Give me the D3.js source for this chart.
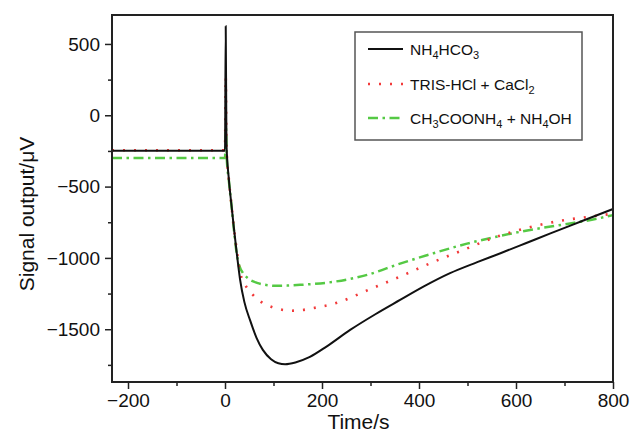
<!DOCTYPE html>
<html>
<head>
<meta charset="utf-8">
<script src="https://cdn.jsdelivr.net/npm/d3@7"></script>
<style>
  body { margin: 0; background: #fff; }
  svg text { font-family: "Liberation Sans", Arial, sans-serif; fill: #111; }
  .axis path, .axis line { stroke: #222; }
</style>
</head>
<body>
<div id="chart"></div>
<script>
// data: [time (s), signal (uV)]
var nh4hco3 = [[-233,-248],[0,-248],[1.5,625],[3,-200],[8,-450],[13,-620],[18,-780],[24,-960],[31,-1150],[40,-1310],[52,-1440],[65,-1560],[78,-1645],[95,-1710],[110,-1738],[124,-1745],[145,-1733],[175,-1694],[210,-1620],[258,-1505],[310,-1395],[361,-1295],[410,-1200],[464,-1107],[520,-1030],[568,-967],[620,-897],[671,-828],[739,-738],[800,-657]];
var trisCacl2 = [[-233,-245],[0,-245],[1.5,265],[3,-220],[8,-450],[13,-620],[18,-780],[24,-940],[31,-1100],[42,-1190],[55,-1250],[75,-1310],[97,-1345],[120,-1365],[138,-1370],[160,-1365],[182,-1352],[231,-1315],[295,-1225],[365,-1125],[430,-1028],[491,-945],[553,-860],[623,-790],[691,-740],[750,-712],[800,-690]];
var acetate = [[-233,-300],[0,-300],[2,-90],[3.5,-290],[8,-460],[13,-620],[18,-790],[24,-967],[30,-1060],[37,-1105],[50,-1150],[66,-1175],[85,-1190],[107,-1196],[130,-1194],[155,-1189],[223,-1168],[293,-1119],[361,-1040],[430,-967],[499,-900],[568,-845],[636,-800],[705,-762],[767,-725],[800,-700]];

var xMajor = [-200, 0, 200, 400, 600, 800];
var xMinor = [-100, 100, 300, 500, 700];
var yMajor = [500, 0, -500, -1000, -1500];
var yMinor = [250, -250, -750, -1250, -1750];

var width = 630, height = 436;
var margin = {top: 15, right: 17, bottom: 54, left: 112};

var svg = d3.select("#chart").append("svg")
    .attr("width", width)
    .attr("height", height);

var x = d3.scaleLinear()
    .domain([-233, 800])
    .range([margin.left, width - margin.right]);

var y = d3.scaleLinear()
    .domain([-1870, 703])
    .range([height - margin.bottom, margin.top]);

var minus = function(d){ return d < 0 ? "\u2212" + Math.abs(d) : "" + d; };

// minor ticks
svg.append("g")
    .attr("class", "axis")
    .attr("transform", "translate(0," + y.range()[0] + ")")
    .call(d3.axisBottom(x).tickValues(xMinor).tickSize(4).tickSizeOuter(0).tickFormat(""))
    .call(g => g.select(".domain").remove());
svg.append("g")
    .attr("class", "axis")
    .attr("transform", "translate(" + x.range()[0] + ",0)")
    .call(d3.axisLeft(y).tickValues(yMinor).tickSize(4).tickSizeOuter(0).tickFormat(""))
    .call(g => g.select(".domain").remove());

// major ticks + labels
var xAxis = svg.append("g")
    .attr("class", "axis")
    .attr("transform", "translate(0," + y.range()[0] + ")")
    .call(d3.axisBottom(x).tickValues(xMajor).tickSize(7).tickSizeOuter(0).tickFormat(minus));
xAxis.select(".domain").remove();
xAxis.selectAll("text").attr("font-size", 19).attr("dy", "0.95em").attr("y", 7);

var yAxis = svg.append("g")
    .attr("class", "axis")
    .attr("transform", "translate(" + x.range()[0] + ",0)")
    .call(d3.axisLeft(y).tickValues(yMajor).tickSize(7).tickSizeOuter(0).tickFormat(minus));
yAxis.select(".domain").remove();
yAxis.selectAll("text").attr("font-size", 19).attr("x", -12);
svg.selectAll(".axis line").attr("stroke-width", 1.5);

// curves
var line = d3.line()
    .x(d => x(d[0]))
    .y(d => y(d[1]))
    .curve(d3.curveMonotoneX);

svg.append("path").datum(acetate)
    .attr("fill", "none").attr("stroke", "#55c944").attr("stroke-width", 2.5)
    .attr("stroke-dasharray", "10,4.5,2.5,4.5")
    .attr("d", line);
svg.append("path").datum(trisCacl2)
    .attr("fill", "none").attr("stroke", "#f23a3a").attr("stroke-width", 2.6)
    .attr("stroke-dasharray", "2,9")
    .attr("d", line);
svg.append("path").datum(nh4hco3)
    .attr("fill", "none").attr("stroke", "#111").attr("stroke-width", 2)
    .attr("d", line);

// frame
svg.append("rect")
    .attr("x", x.range()[0]).attr("y", y.range()[1])
    .attr("width", x.range()[1] - x.range()[0])
    .attr("height", y.range()[0] - y.range()[1])
    .attr("fill", "none").attr("stroke", "#222").attr("stroke-width", 2);

// axis titles
svg.append("text")
    .attr("x", (x.range()[0] + x.range()[1]) / 2 - 4)
    .attr("y", 429)
    .attr("text-anchor", "middle")
    .attr("font-size", 21)
    .text("Time/s");

svg.append("text")
    .attr("transform", "translate(34," + 214 + ") rotate(-90)")
    .attr("text-anchor", "middle")
    .attr("font-size", 21)
    .text("Signal output/\u03bcV");

// legend
var legend = svg.append("g");
legend.append("rect")
    .attr("x", 355).attr("y", 32).attr("width", 227).attr("height", 108)
    .attr("fill", "#fff").attr("stroke", "#555").attr("stroke-width", 1.5);

var legendItems = [
    {parts: [["NH",0],["4",1],["HCO",0],["3",1]], color: "#111", dash: null, w: 2},
    {parts: [["TRIS-HCl + CaCl",0],["2",1]], color: "#f23a3a", dash: "2,9", w: 2.6},
    {parts: [["CH",0],["3",1],["COONH",0],["4",1],[" + NH",0],["4",1],["OH",0]], color: "#55c944", dash: "10,4.5,2.5,4.5", w: 2.5}
];
var rowY = [49, 84, 118];

legendItems.forEach(function(item, i){
    legend.append("line")
        .attr("x1", 368).attr("x2", 403)
        .attr("y1", rowY[i]).attr("y2", rowY[i])
        .attr("stroke", item.color).attr("stroke-width", item.w)
        .attr("stroke-dasharray", item.dash);
    var t = legend.append("text")
        .attr("x", 410).attr("y", rowY[i] + 5.5)
        .attr("font-size", 15.5);
    item.parts.forEach(function(p){
        var ts = t.append("tspan").text(p[0]);
        if (p[1]) ts.attr("font-size", 11).attr("dy", 4);
        else if (t.selectAll("tspan").size() > 1) ts.attr("dy", -4);
    });
});
</script>
</body>
</html>
